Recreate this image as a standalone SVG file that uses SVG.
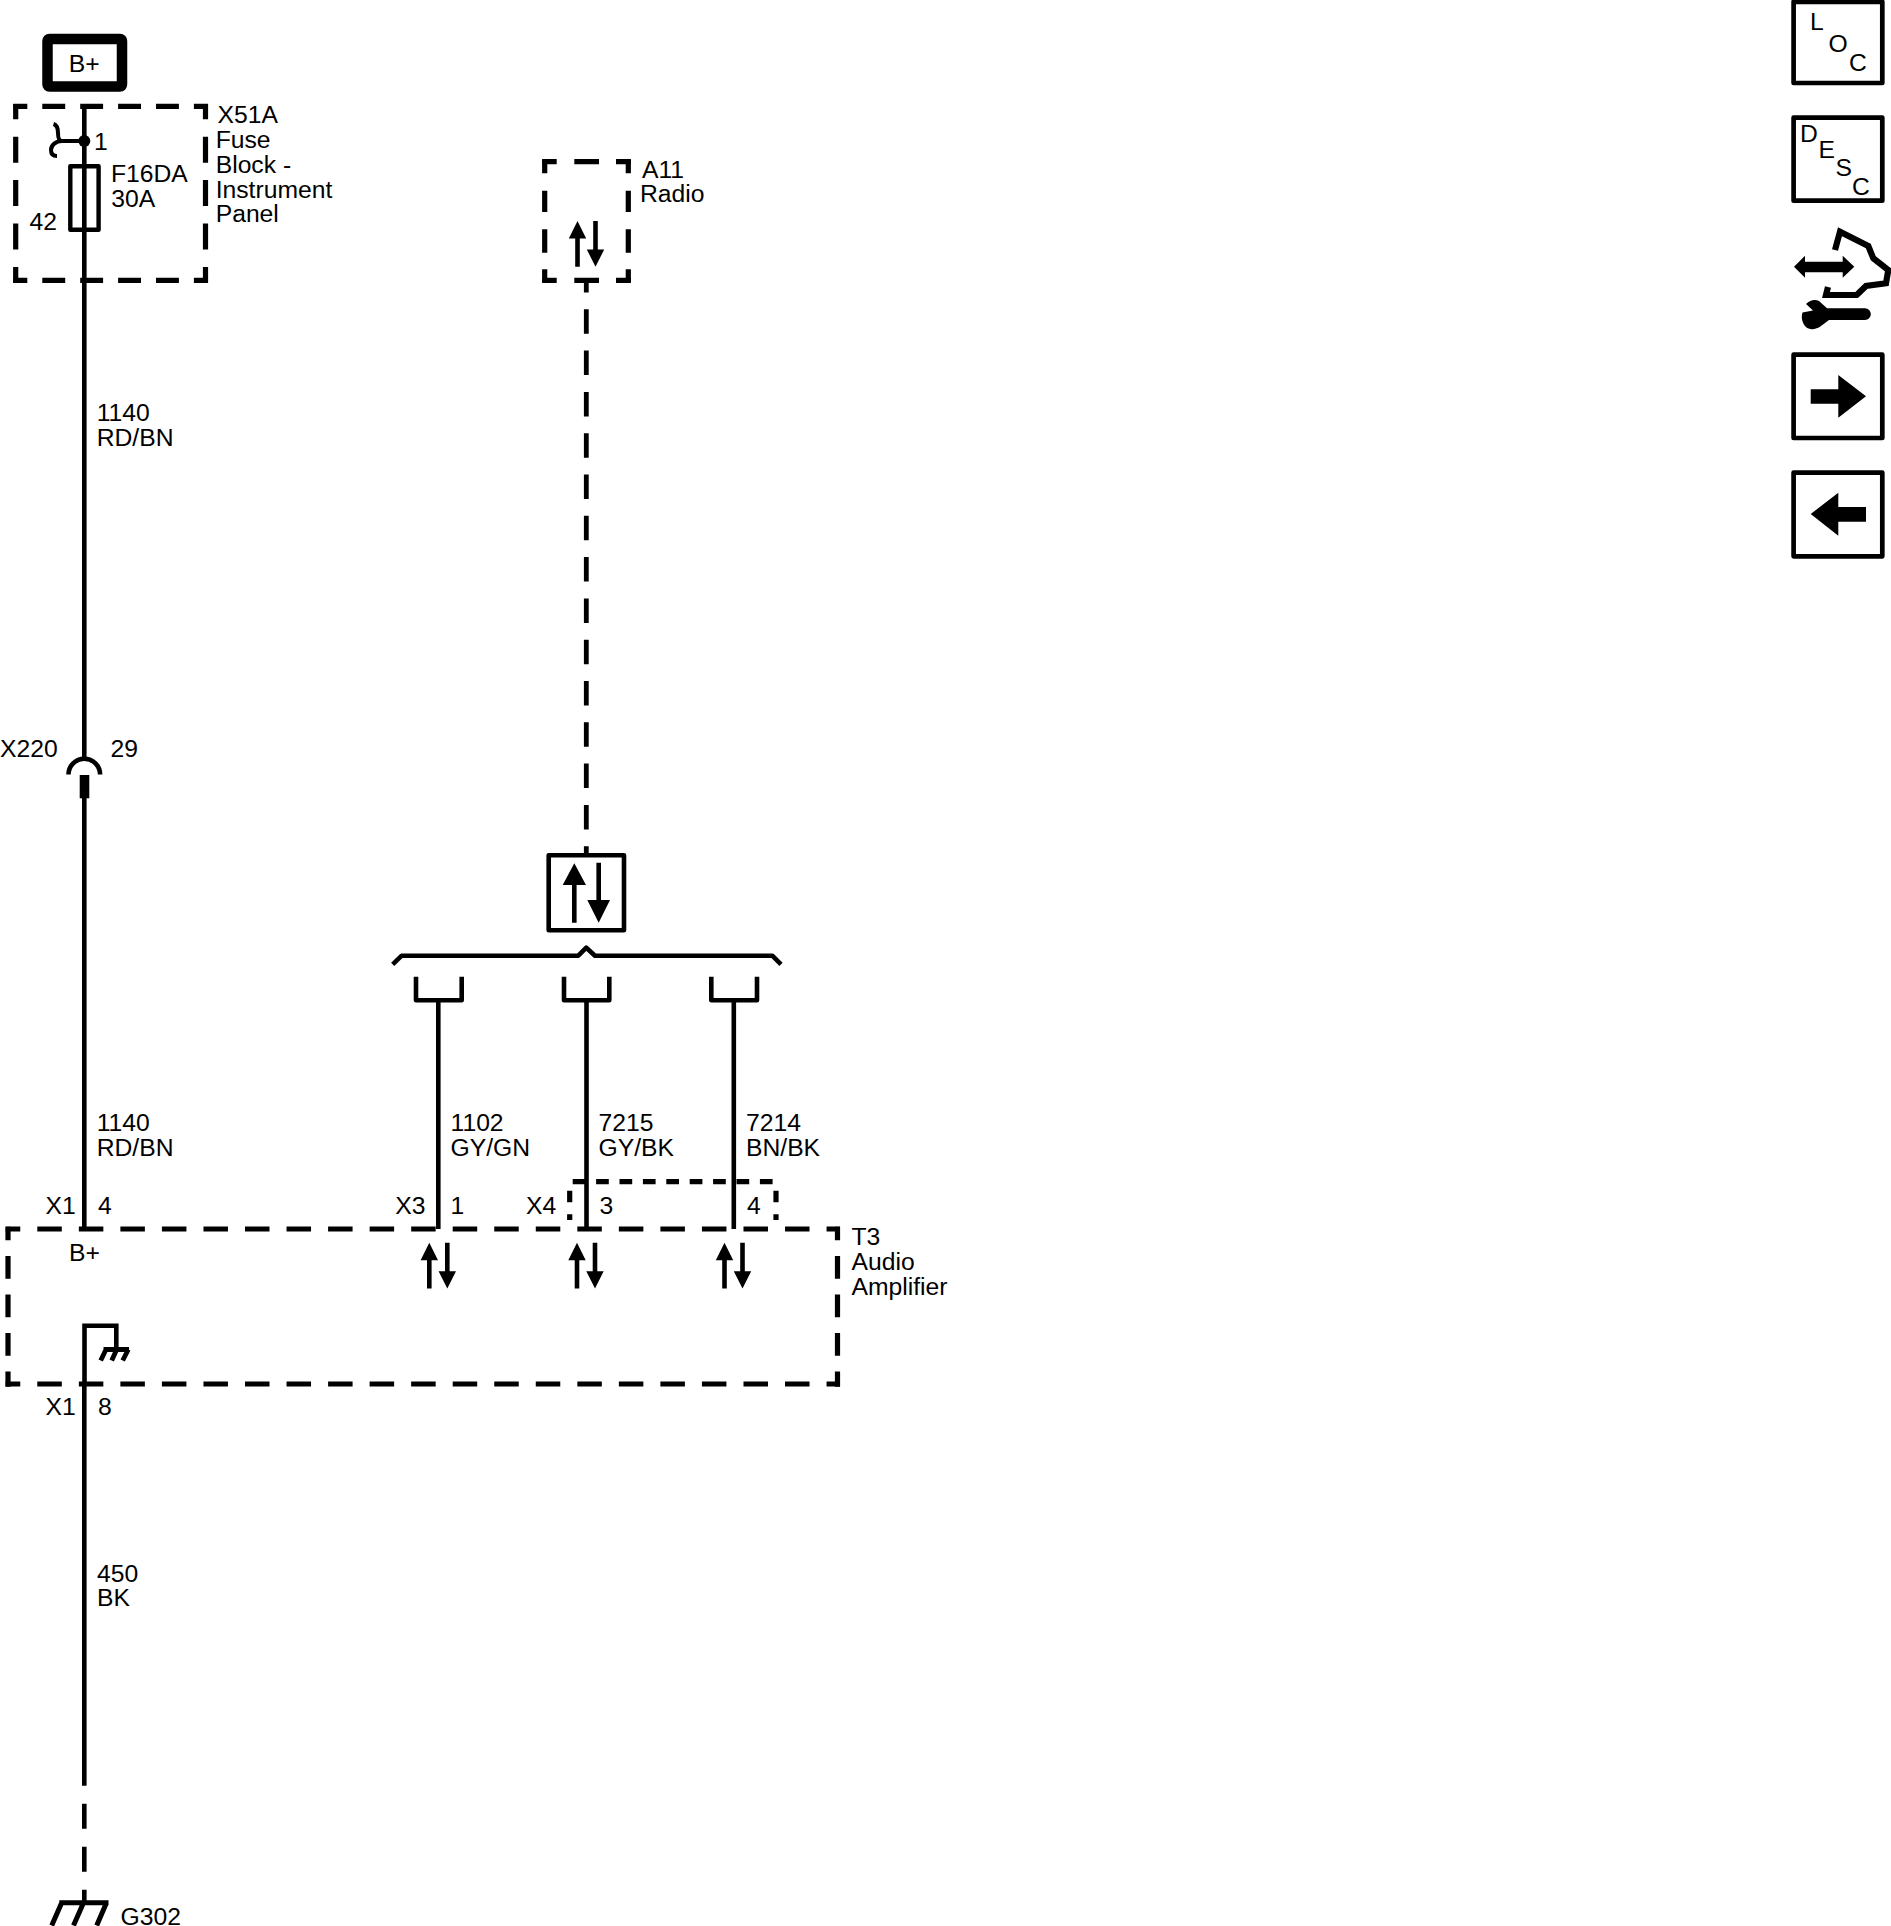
<svg xmlns="http://www.w3.org/2000/svg" xmlns:xlink="http://www.w3.org/1999/xlink" width="1891" height="1926" viewBox="0 0 1891 1926">
<style>
text{font-family:"Liberation Sans",Arial,sans-serif;font-size:24.7px;fill:#000}
.w{fill:none;stroke:#000;stroke-width:4.6}
.b{fill:none;stroke:#000;stroke-width:5.2}
.f{fill:#000;stroke:none}
.ico{fill:#fff;stroke:#000;stroke-width:4.7;stroke-linejoin:round}
</style>
<defs>
<g id="bidi">
<path class="f" d="M-2.3,45.7V17.5H-8.7L0,0 8.7,17.5H2.3V45.7Z"/>
<path class="f" d="M15.7,0H20.3V28.5H26.7L18,45.7 9.3,28.5H15.7Z"/>
</g>
</defs>
<rect width="1891" height="1926" fill="#fff"/>
<g id="connectors">
<path class="w" d="M84.3,106V758"/>
<path class="w" d="M84.3,798V1229"/>
<path class="w" d="M84.3,1384V1785.7"/>
<path class="w" d="M84.3,1785.7V1903" stroke-dasharray="25 18" stroke-dashoffset="25"/>
<path class="w" d="M586.3,282V855" style="stroke-width:4.8" stroke-dasharray="24.5 16.8" stroke-dashoffset="14"/>
<path class="w" d="M438.3,1000V1229"/>
<path class="w" d="M586.5,1000V1229"/>
<path class="w" d="M733.8,1000V1229"/>
</g>
<g id="bplus">
<rect x="47.5" y="39" width="74.5" height="47.5" rx="2" fill="#fff" stroke="#000" stroke-width="10.5" stroke-linejoin="round"/>
<text x="68.7" y="71.7">B+</text>
</g>
<g id="x51a">
<path class="b" d="M15.7,104V283M205.5,104V283" stroke-dasharray="26 17.4" stroke-dashoffset="10.7"/>
<path class="b" d="M13.3,106.3H207.9M13.3,280.3H207.9" stroke-dasharray="22.9 15" stroke-dashoffset="8.9"/>
<circle cx="84.3" cy="141" r="6" class="f"/>
<path d="M84.3,141H62C58,141 58,136 58,133C58,128 57,125 53.5,124M62,141C56,141 51,145 51,150C51,154 53,156 57,156" fill="none" stroke="#000" stroke-width="4"/>
<rect x="70.3" y="166.3" width="28.3" height="63.4" fill="none" stroke="#000" stroke-width="4.4" stroke-linejoin="round"/>
<text x="94" y="150">1</text>
<text x="111" y="182">F16DA</text>
<text x="111.3" y="207">30A</text>
<text x="29.5" y="230">42</text>
<text x="217.5" y="123">X51A</text>
<text x="215.7" y="147.5">Fuse</text>
<text x="215.7" y="172.5">Block -</text>
<text x="215.7" y="197.5">Instrument</text>
<text x="215.7" y="222">Panel</text>
</g>
<g id="wire-label-top">
<text x="96.7" y="421">1140</text>
<text x="96.7" y="445.7">RD/BN</text>
</g>
<g id="x220">
<path d="M68.5,774.5A15.8,15.8 0 0 1 100.1,774.5" fill="none" stroke="#000" stroke-width="4.6"/>
<rect x="79.7" y="775" width="9.6" height="23.3" class="f"/>
<text x="0" y="757">X220</text>
<text x="110.5" y="757">29</text>
</g>
<g id="a11">
<path class="b" d="M544.7,159.3V173.3M544.7,190.7V212M544.7,229.3V252.7M544.7,269.3V282.7M628.3,159.3V173.3M628.3,190.7V212M628.3,229.3V252.7M628.3,269.3V282.7"/>
<path class="b" d="M542.3,161.7H556.7M574.3,161.7H599M616,161.7H630.7M542.3,280.3H556.7M574.3,280.3H599M616,280.3H630.7"/>
<use href="#bidi" xlink:href="#bidi" x="577.5" y="221"/>
<text x="642" y="177.7">A11</text>
<text x="640" y="202">Radio</text>
</g>
<g id="bus-symbol">
<rect x="548.7" y="855.3" width="75.3" height="75" fill="#fff" stroke="#000" stroke-width="4.6" stroke-linejoin="round"/>
<path class="f" d="M572,922.7V885H562.7L574.3,863.3 586,885H576.6V922.7Z"/>
<path class="f" d="M596.4,862.7H601V900H610L598.7,922.7 587.3,900H596.4Z"/>
<path d="M392.7,964.3L401.7,955.7H578.3L586.3,947.7 595,955.7H772.3L781,964.3" fill="none" stroke="#000" stroke-width="4.6" stroke-linejoin="round"/>
<path class="w" stroke-linejoin="round" d="M416,976.7V1000.3H461.7V976.7M564,976.7V1000.3H609.3V976.7M711.3,976.7V1000.3H757V976.7"/>
</g>
<g id="wire-labels-mid">
<text x="96.7" y="1131">1140</text><text x="96.7" y="1155.5">RD/BN</text>
<text x="450.5" y="1131">1102</text><text x="450.5" y="1155.5">GY/GN</text>
<text x="598.5" y="1131">7215</text><text x="598.5" y="1155.5">GY/BK</text>
<text x="746" y="1131">7214</text><text x="746" y="1155.5">BN/BK</text>
</g>
<g id="x4-shield">
<path class="b" d="M572.7,1181.7H773.5" stroke-dasharray="12.7 10.7"/>
<path class="b" d="M569.7,1190.7V1202.3M569.7,1214.3V1220M776,1190.7V1202.3M776,1214.3V1220"/>
</g>
<g id="t3">
<path class="b" d="M5.7,1229H840M5.7,1384H840" stroke-dasharray="24.5 17.04" stroke-dashoffset="9.94"/>
<path class="b" d="M8,1226.7V1386.7M837.5,1226.7V1386.7" stroke-dasharray="22.7 15.8" stroke-dashoffset="9.2"/>
<path d="M84.5,1384V1325.7H116.3V1349" fill="none" stroke="#000" stroke-width="4.6"/>
<path d="M103.5,1349.5H129M106,1349.5L100.7,1360.5M116.7,1349.5L111.7,1360.5M128.3,1349.5L122.7,1360.5" fill="none" stroke="#000" stroke-width="4.8"/>
<use href="#bidi" xlink:href="#bidi" x="429.3" y="1242.7"/>
<use href="#bidi" xlink:href="#bidi" x="577" y="1242.7"/>
<use href="#bidi" xlink:href="#bidi" x="724.5" y="1242.7"/>
<text x="45.5" y="1214">X1</text><text x="98" y="1214">4</text>
<text x="395.2" y="1214">X3</text><text x="450.5" y="1214">1</text>
<text x="526" y="1214">X4</text><text x="599.5" y="1214">3</text><text x="747" y="1214">4</text>
<text x="69" y="1260.7">B+</text>
<text x="45.5" y="1415">X1</text><text x="98" y="1415">8</text>
<text x="851.5" y="1245">T3</text>
<text x="851.5" y="1269.5">Audio</text>
<text x="851.5" y="1294.5">Amplifier</text>
</g>
<g id="wire-label-bottom">
<text x="97" y="1582">450</text>
<text x="97" y="1606">BK</text>
</g>
<g id="g302">
<path d="M59.3,1902.7H108.5M61.7,1902.7L51.7,1925.5M83.5,1902.7L73.5,1925.5M106.5,1902.7L96.7,1925.5" fill="none" stroke="#000" stroke-width="5"/>
<text x="120.5" y="1924.8">G302</text>
</g>
<g id="loc">
<rect class="ico" x="1793.6" y="1.8" width="88.7" height="81.2"/>
<text x="1810" y="30">L</text><text x="1828.5" y="51.7">O</text><text x="1849" y="70.7">C</text>
</g>
<g id="desc">
<rect class="ico" x="1793.6" y="117.7" width="88.7" height="83"/>
<text x="1800" y="141.7">D</text><text x="1818.5" y="157.7">E</text><text x="1835.5" y="176">S</text><text x="1852" y="195">C</text>
</g>
<g id="service">
<path d="M1835,250L1840,231.7 1868.3,246 1873.3,258.3 1888.3,270 1886,283.3 1866,286 1856.7,295H1826L1828,287" fill="none" stroke="#000" stroke-width="6.2"/>
<path class="f" d="M1794,266.7L1805,255.7V261.7H1842.7V255.7L1854.3,266.7 1842.7,277.7V272.3H1805V277.7Z"/>
<path class="f" d="M1806,304C1810,300 1815,299 1819,301L1827,308.3H1865A5.8,5.8 0 0 1 1865,320H1829L1821,326C1816,330 1809,330 1806,327C1802,323 1801,317 1802.5,312.5L1813,310.5Z"/>
</g>
<g id="next">
<rect class="ico" x="1793.6" y="354.7" width="88.7" height="83.3"/>
<path class="f" d="M1810.7,389.3H1838.3V375L1866,396.3 1838.3,417.7V403.7H1810.7Z"/>
</g>
<g id="prev">
<rect class="ico" x="1793.6" y="472.7" width="88.7" height="83.6"/>
<path class="f" d="M1810.7,514L1838.3,492.7V507H1866V521.7H1838.3V535.7Z"/>
</g>
</svg>
